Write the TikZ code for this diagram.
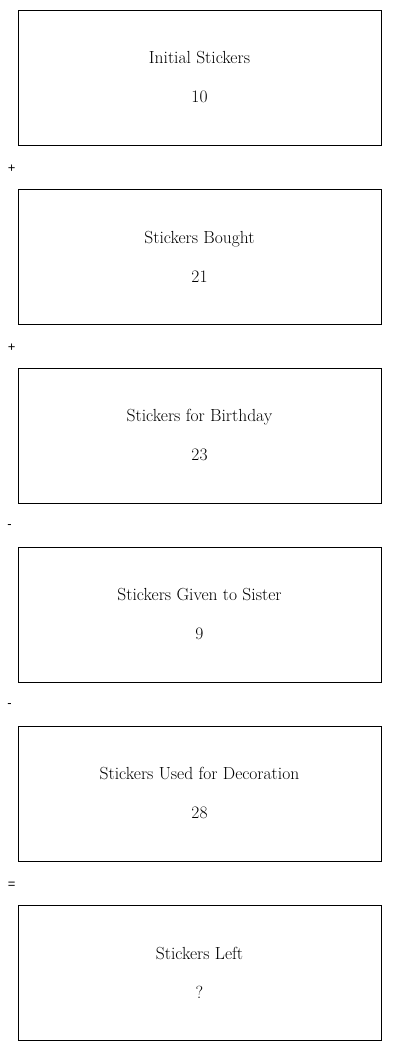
\documentclass[tikz,border=0pt]{standalone}
\usepackage{fontspec}
\usepackage{tikz}
\usetikzlibrary{positioning, calc}
\newfontfamily\opfont{Liberation Sans}

\tikzset{
  stickbox/.style={draw, line width=0.8pt, rectangle, minimum width=363pt,
    minimum height=135pt, align=center, inner sep=0pt,
    font=\fontsize{17.5}{39}\selectfont},
  opsign/.style={font=\opfont\fontsize{13}{15}\selectfont, inner sep=0pt},
}

\begin{document}
\begin{tikzpicture}[x=1pt, y=1pt]
  \useasboundingbox (0,0) rectangle (400,1051);
  % quantity boxes, top to bottom
  \node[stickbox] (initial) at (199.5, 973.5) {Initial Stickers\\10};
  \node[stickbox, below=43.2pt of initial] (bought) {Stickers Bought\\21};
  \node[stickbox, below=43.2pt of bought] (birthday) {Stickers for Birthday\\23};
  \node[stickbox, below=43.2pt of birthday] (sister) {Stickers Given to Sister\\9};
  \node[stickbox, below=43.2pt of sister] (decor) {Stickers Used for Decoration\\28};
  \node[stickbox, below=43.2pt of decor] (left) {Stickers Left\\?};
  % operators between the boxes
  \node[opsign] (op1) at ($(initial.south west)!.5!(bought.north west)+(-6,-2)$) {+};
  \node[opsign] (op2) at ($(bought.south west)!.5!(birthday.north west)+(-6,-2)$) {+};
  \node[opsign] (op3) at ($(birthday.south west)!.5!(sister.north west)+(-8,-2)$) {-};
  \node[opsign] (op4) at ($(sister.south west)!.5!(decor.north west)+(-8,-2)$) {-};
  \node[opsign] (op5) at ($(decor.south west)!.5!(left.north west)+(-6,-2)$) {=};
\end{tikzpicture}
\end{document}
